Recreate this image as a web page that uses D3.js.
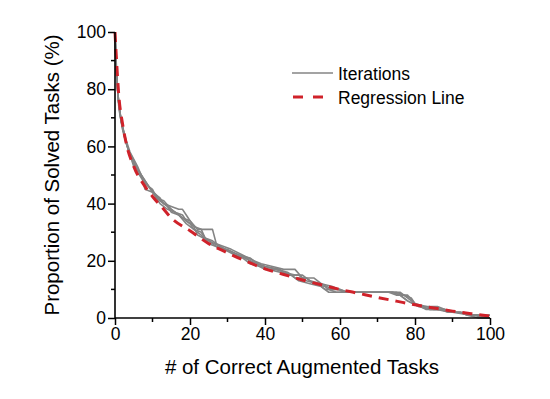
<!DOCTYPE html>
<html>
<head>
<meta charset="utf-8">
<script src="https://cdn.jsdelivr.net/npm/d3@7/dist/d3.min.js"></script>
<style>
  body { margin: 0; background: #fff; }
  svg { display: block; font-family: "Liberation Sans", Arial, sans-serif; }
</style>
</head>
<body>
<svg id="chart" width="550" height="399"></svg>
<script>
// ---- Data ----
const xTicks = [0, 20, 40, 60, 80, 100];
const yTicks = [0, 20, 40, 60, 80, 100];
const xMinorTicks = [10, 30, 50, 70, 90];
const yMinorTicks = [10, 30, 50, 70, 90];

const iteration1 = [[0,100],[0.3,90],[0.7,80],[1.2,72],[2,66],[3,61],[4,57],[5,54],[7,50],[9,46],[11,43],[13,40],[14,39],[16,37],[18,36],[19,34],[21,32],[22,29],[25,27],[28,25],[31,23],[33,22],[36,20],[38,19],[40,18],[44,17],[46,15],[49,15],[51,13],[54,12],[56,10],[60,10],[62,9],[74,9],[76,8],[78,6],[81,4],[86,4],[88,3],[91,2],[96,1],[98,0],[100,0]];
const iteration2 = [[0,100],[0.3,88],[0.8,78],[1.5,70],[2.5,64],[3.5,59],[5,55],[6,52],[8,48],[10,44],[12,42],[13,40],[15,39],[17,38],[18,38],[19,36],[20,34],[22,31],[26,31],[27,26],[29,25],[31,24],[34,22],[37,20],[39,19],[42,18],[45,17],[48,17],[50,14],[53,14],[55,12],[58,11],[61,9],[75,9],[77,8],[79,7],[80,5],[83,4],[85,3],[88,3],[90,2],[95,1],[97,1],[100,1]];
const iteration3 = [[0,100],[0.4,86],[1,74],[2,67],[3,62],[4,58],[6,53],[7,50],[8,45],[10,44],[12,41],[14,39],[15,37],[17,36],[19,33],[21,31],[23,30],[24,28],[26,26],[28,24],[30,24],[33,22],[35,21],[37,19],[40,17],[43,17],[46,16],[48,14],[51,14],[53,12],[56,11],[57,10],[59,9],[73,9],[75,8],[78,8],[80,5],[82,4],[84,3],[87,3],[89,2],[93,2],[95,1],[98,1],[100,0]];
const iteration4 = [[0,100],[0.3,87],[0.9,76],[1.6,69],[2.6,63],[4,57],[5,53],[7,49],[9,46],[11,42],[12,40],[14,38],[16,37],[18,35],[20,33],[21,31],[23,29],[25,26],[27,25],[29,24],[32,22],[34,21],[36,19],[39,18],[41,17],[44,16],[47,15],[49,13],[52,12],[55,11],[57,9],[76,9],[78,7],[80,5],[83,3],[86,3],[89,2],[92,2],[94,1],[97,0],[100,0]];
const iteration5 = [[0,100],[0.4,84],[1,75],[1.8,68],[2.8,62],[3.8,58],[5,54],[6.5,51],[8,47],[10,45],[11,42],[13,41],[15,38],[16,37],[18,35],[20,34],[21,32],[23,31],[24,28],[26,27],[28,25],[31,23],[33,22],[36,21],[38,19],[40,18],[43,17],[45,16],[48,15],[50,15],[52,13],[55,12],[58,10],[60,10],[62,9],[74,9],[76,8],[78,6],[81,4],[84,3],[87,3],[89,2],[92,2],[94,1],[97,1],[99,0],[100,0]];
const iterations = [iteration1, iteration2, iteration3, iteration4, iteration5];

const regressionX = [0, 0.5, 1, 2, 3, 5, 8, 10, 13, 15, 20, 25, 30, 35, 40, 45, 50, 55, 60, 65, 70, 75, 80, 85, 90, 95, 100];
const regressionY = [100, 88, 78, 68, 61, 53, 46, 42.5, 38, 35, 30.5, 26, 22.8, 19.8, 17.2, 15.2, 13.3, 11.6, 10, 8.6, 7.2, 5.9, 4.6, 3.5, 2.4, 1.5, 0.7];

const legendLabels = ["Iterations", "Regression Line"];
const xTitle = "# of Correct Augmented Tasks";
const yTitle = "Proportion of Solved Tasks (%)";

// ---- Layout ----
const svg = d3.select("#chart");
const x = d3.scaleLinear().domain([0, 100]).range([115, 490]);
const y = d3.scaleLinear().domain([0, 100]).range([318, 32]);

const gray = "#848484";
const red = "#d0222a";

const line = d3.line().x(d => x(d[0])).y(d => y(d[1]));

// Iteration lines
svg.append("g").selectAll("path").data(iterations).join("path")
  .attr("d", line)
  .attr("fill", "none")
  .attr("stroke", gray)
  .attr("stroke-width", 1.6)
  .attr("stroke-linejoin", "round");

// Regression line
const regData = regressionX.map((v, i) => [v, regressionY[i]]);
svg.append("path")
  .attr("d", d3.line().curve(d3.curveMonotoneX).x(d => x(d[0])).y(d => y(d[1]))(regData))
  .attr("fill", "none")
  .attr("stroke", red)
  .attr("stroke-width", 3)
  .attr("stroke-dasharray", "10,7");

// Axes
const fontSize = 17.5;
const xAxis = d3.axisBottom(x).tickValues(xTicks).tickSize(7).tickPadding(3);
const gx = svg.append("g").attr("transform", "translate(0,318)").call(xAxis);
gx.selectAll("text").attr("font-size", fontSize).attr("font-family", "Liberation Sans, Arial, sans-serif").attr("fill", "#000");
gx.append("g").selectAll("line").data(xMinorTicks).join("line")
  .attr("x1", d => x(d)).attr("x2", d => x(d)).attr("y1", 0).attr("y2", 4)
  .attr("stroke", "#000").attr("stroke-width", 1.5);

const yAxis = d3.axisLeft(y).tickValues(yTicks).tickSize(7).tickPadding(2);
const gy = svg.append("g").attr("transform", "translate(115,0)").call(yAxis);
gy.selectAll("text").attr("font-size", fontSize).attr("font-family", "Liberation Sans, Arial, sans-serif").attr("fill", "#000");
gy.append("g").selectAll("line").data(yMinorTicks).join("line")
  .attr("y1", d => y(d)).attr("y2", d => y(d)).attr("x1", 0).attr("x2", -4)
  .attr("stroke", "#000").attr("stroke-width", 1.5);

[gx, gy].forEach(g => {
  g.select(".domain").attr("stroke", "#000").attr("stroke-width", 1.6);
  g.selectAll(".tick line").attr("stroke", "#000").attr("stroke-width", 1.5);
});
gx.select(".domain").attr("d", "M115,0H490");
gy.select(".domain").attr("d", "M0,318V32");

// Titles
svg.append("text")
  .attr("x", 302).attr("y", 374)
  .attr("text-anchor", "middle")
  .attr("font-size", 20.5)
  .attr("fill", "#000")
  .text(xTitle);
svg.append("text")
  .attr("transform", "translate(59,175) rotate(-90)")
  .attr("text-anchor", "middle")
  .attr("font-size", 20.5)
  .attr("fill", "#000")
  .text(yTitle);

// Legend
const lg = svg.append("g");
lg.append("line").attr("x1", 292).attr("x2", 333).attr("y1", 73).attr("y2", 73)
  .attr("stroke", gray).attr("stroke-width", 1.6);
lg.append("line").attr("x1", 293).attr("x2", 323).attr("y1", 97).attr("y2", 97)
  .attr("stroke", red).attr("stroke-width", 3).attr("stroke-dasharray", "10,10");
lg.selectAll("text").data(legendLabels).join("text")
  .attr("x", 338)
  .attr("y", (d, i) => 80 + i * 24)
  .attr("font-size", fontSize)
  .attr("fill", "#000")
  .text(d => d);
</script>
</body>
</html>
